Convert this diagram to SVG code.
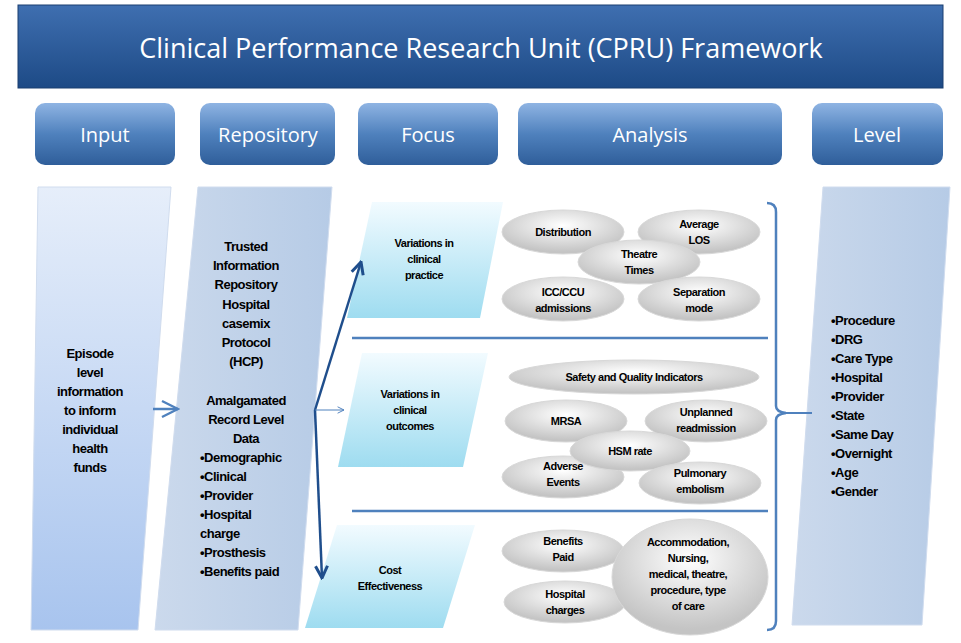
<svg xmlns="http://www.w3.org/2000/svg" width="961" height="643" viewBox="0 0 961 643">
<defs>
<linearGradient id="hdr" x1="0" y1="0" x2="0" y2="1"><stop offset="0" stop-color="#3f6fb0"/><stop offset="1" stop-color="#1d4a86"/></linearGradient>
<linearGradient id="sub" x1="0" y1="0" x2="0" y2="1"><stop offset="0" stop-color="#8fb4e3"/><stop offset="0.5" stop-color="#4f81bd"/><stop offset="1" stop-color="#2f5e9a"/></linearGradient>
<linearGradient id="inp" x1="0" y1="0" x2="0" y2="1"><stop offset="0" stop-color="#e6eefa"/><stop offset="1" stop-color="#a8c4ee"/></linearGradient>
<linearGradient id="rep" x1="0" y1="0" x2="1" y2="0"><stop offset="0" stop-color="#cbd9ec"/><stop offset="1" stop-color="#b6cbe6"/></linearGradient>
<linearGradient id="foc" x1="0" y1="0" x2="0" y2="1"><stop offset="0" stop-color="#f2fbff"/><stop offset="1" stop-color="#9edcf0"/></linearGradient>
<radialGradient id="ell" cx="0.5" cy="0.35" r="0.6"><stop offset="0" stop-color="#ffffff"/><stop offset="1" stop-color="#c4c4c4"/></radialGradient>
<marker id="ah" viewBox="0 0 10 10" refX="9" refY="5" markerWidth="6" markerHeight="6" orient="auto"><path d="M1,1 L9,5 L1,9" fill="none" stroke="#1f4e8c" stroke-width="2"/></marker>
<marker id="ah2" viewBox="0 0 10 10" refX="9" refY="5" markerWidth="8" markerHeight="8" orient="auto"><path d="M1,1 L9,5 L1,9" fill="none" stroke="#4f81bd" stroke-width="1.2"/></marker>
</defs>
<style>
.t{font-family:"Liberation Sans",Arial,sans-serif;font-weight:bold;fill:#000;text-anchor:middle;letter-spacing:-0.5px}
.w{font-family:"Open Sans","Liberation Sans",sans-serif;fill:#fff;text-anchor:middle}
.e{fill:url(#ell);stroke:#d8d8d8;stroke-width:1}
.s{font-size:11px}
</style>
<rect width="961" height="643" fill="#fff"/>
<g id="title"><rect x="18" y="5" width="925" height="83" fill="url(#hdr)" stroke="#1a3f70"/><text class="w" x="481" y="58" font-size="27">Clinical Performance Research Unit  (CPRU) Framework</text></g>
<g id="h-input"><rect x="35" y="103" width="140" height="62" rx="10" fill="url(#sub)"/><text class="w" x="105" y="142" font-size="20">Input</text></g>
<g id="h-repo"><rect x="200" y="103" width="135" height="62" rx="10" fill="url(#sub)"/><text class="w" x="268" y="142" font-size="20">Repository</text></g>
<g id="h-focus"><rect x="358" y="103" width="140" height="62" rx="10" fill="url(#sub)"/><text class="w" x="428" y="142" font-size="20">Focus</text></g>
<g id="h-analysis"><rect x="518" y="103" width="264" height="62" rx="10" fill="url(#sub)"/><text class="w" x="650" y="142" font-size="20">Analysis</text></g>
<g id="h-level"><rect x="812" y="103" width="131" height="62" rx="10" fill="url(#sub)"/><text class="w" x="877" y="142" font-size="20">Level</text></g>

<g id="input"><polygon points="38,187 171,187 138,630 31,630" fill="url(#inp)" stroke="#d0dcee"/>
<text class="t" font-size="13"><tspan x="90" y="358">Episode</tspan><tspan x="90" y="377">level</tspan><tspan x="90" y="396">information</tspan><tspan x="90" y="415">to inform</tspan><tspan x="90" y="434">individual</tspan><tspan x="90" y="453">health</tspan><tspan x="90" y="472">funds</tspan></text></g>
<g id="repository"><polygon points="198,187 332,187 298,630 155,630" fill="url(#rep)" stroke="#d0dcee"/>
<text class="t" font-size="13"><tspan x="246" y="251">Trusted</tspan><tspan x="246" y="270">Information</tspan><tspan x="246" y="289">Repository</tspan><tspan x="246" y="309">Hospital</tspan><tspan x="246" y="328">casemix</tspan><tspan x="246" y="347">Protocol</tspan><tspan x="246" y="366">(HCP)</tspan><tspan x="246" y="405">Amalgamated</tspan><tspan x="246" y="424">Record Level</tspan><tspan x="246" y="443">Data</tspan></text>
<text class="t" font-size="13" style="text-anchor:start"><tspan x="200" y="462">•Demographic</tspan><tspan x="200" y="481">•Clinical</tspan><tspan x="200" y="500">•Provider</tspan><tspan x="200" y="519">•Hospital</tspan><tspan x="200" y="538">charge</tspan><tspan x="200" y="557">•Prosthesis</tspan><tspan x="200" y="576">•Benefits paid</tspan></text></g>

<g id="focus1"><polygon points="372,202 503,202 480,318 347,318" fill="url(#foc)"/><text class="t s"><tspan x="424" y="247">Variations in</tspan><tspan x="424" y="263">clinical</tspan><tspan x="424" y="279">practice</tspan></text></g>
<g id="focus2"><polygon points="362,353 488,353 463,467 338,467" fill="url(#foc)"/><text class="t s"><tspan x="410" y="398">Variations in</tspan><tspan x="410" y="414">clinical</tspan><tspan x="410" y="430">outcomes</tspan></text></g>
<g id="focus3"><polygon points="337,525 475,525 443,628 305,628" fill="url(#foc)"/><text class="t s"><tspan x="390" y="574">Cost</tspan><tspan x="390" y="590">Effectiveness</tspan></text></g>

<g id="analysis">
<g id="a-dist"><ellipse class="e" cx="563" cy="232" rx="61" ry="22"/><text class="t s" x="563" y="236">Distribution</text></g>
<g id="a-los"><ellipse class="e" cx="699" cy="232" rx="61" ry="22"/><text class="t s"><tspan x="699" y="228">Average</tspan><tspan x="699" y="244">LOS</tspan></text></g>
<g id="a-theatre"><ellipse class="e" cx="639" cy="262" rx="61" ry="22"/><text class="t s"><tspan x="639" y="258">Theatre</tspan><tspan x="639" y="274">Times</tspan></text></g>
<g id="a-icc"><ellipse class="e" cx="563" cy="299" rx="61" ry="22"/><text class="t s"><tspan x="563" y="296">ICC/CCU</tspan><tspan x="563" y="312">admissions</tspan></text></g>
<g id="a-sep"><ellipse class="e" cx="699" cy="299" rx="61" ry="22"/><text class="t s"><tspan x="699" y="296">Separation</tspan><tspan x="699" y="312">mode</tspan></text></g>
<g id="a-safety"><ellipse class="e" cx="634" cy="377" rx="125" ry="17"/><text class="t s" x="634" y="381">Safety and Quality Indicators</text></g>
<g id="a-mrsa"><ellipse class="e" cx="566" cy="421" rx="61" ry="21"/><text class="t s" x="566" y="425">MRSA</text></g>
<g id="a-unpl"><ellipse class="e" cx="706" cy="421" rx="61" ry="21"/><text class="t s"><tspan x="706" y="416">Unplanned</tspan><tspan x="706" y="432">readmission</tspan></text></g>
<g id="a-adv"><ellipse class="e" cx="563" cy="477" rx="61" ry="21"/><text class="t s"><tspan x="563" y="470">Adverse</tspan><tspan x="563" y="486">Events</tspan></text></g>
<g id="a-hsm"><ellipse class="e" cx="630" cy="451" rx="60" ry="20"/><text class="t s" x="630" y="455">HSM rate</text></g>
<g id="a-pulm"><ellipse class="e" cx="700" cy="483" rx="61" ry="21"/><text class="t s"><tspan x="700" y="477">Pulmonary</tspan><tspan x="700" y="493">embolism</tspan></text></g>
<g id="a-ben"><ellipse class="e" cx="563" cy="551" rx="61" ry="21"/><text class="t s"><tspan x="563" y="545">Benefits</tspan><tspan x="563" y="561">Paid</tspan></text></g>
<g id="a-hosp"><ellipse class="e" cx="565" cy="602" rx="61" ry="21"/><text class="t s"><tspan x="565" y="598">Hospital</tspan><tspan x="565" y="614">charges</tspan></text></g>
<g id="a-acc"><ellipse class="e" cx="690" cy="577" rx="78" ry="58"/><text class="t s"><tspan x="688" y="546">Accommodation,</tspan><tspan x="688" y="562">Nursing,</tspan><tspan x="688" y="578">medical, theatre,</tspan><tspan x="688" y="594">procedure, type</tspan><tspan x="688" y="610">of care</tspan></text></g>
</g>

<g id="level"><polygon points="823,187 950,187 922,625 792,625" fill="url(#rep)" stroke="#d0dcee"/>
<text class="t" font-size="13" style="text-anchor:start"><tspan x="831" y="325">•Procedure</tspan><tspan x="831" y="344">•DRG</tspan><tspan x="831" y="363">•Care Type</tspan><tspan x="831" y="382">•Hospital</tspan><tspan x="831" y="401">•Provider</tspan><tspan x="831" y="420">•State</tspan><tspan x="831" y="439">•Same Day</tspan><tspan x="831" y="458">•Overnight</tspan><tspan x="831" y="477">•Age</tspan><tspan x="831" y="496">•Gender</tspan></text></g>

<g id="connectors" fill="none">
<line x1="352" y1="338" x2="768" y2="338" stroke="#4f81bd" stroke-width="2.5"/>
<line x1="352" y1="511" x2="768" y2="511" stroke="#4f81bd" stroke-width="2.5"/>
<path d="M767,203 Q776,203 776,212 L776,406 Q776,412 786,413 Q776,414 776,420 L776,621 Q776,630 767,630" stroke="#4f81bd" stroke-width="2.5"/>
<line x1="786" y1="413" x2="812" y2="413" stroke="#4f81bd" stroke-width="2"/>
<line x1="153" y1="409" x2="178" y2="409" stroke="#4f81bd" stroke-width="2.5" marker-end="url(#ah2)"/>
<line x1="315" y1="410" x2="361" y2="262" stroke="#1f4e8c" stroke-width="2.5" marker-end="url(#ah)"/>
<line x1="315" y1="410" x2="322" y2="578" stroke="#1f4e8c" stroke-width="2.5" marker-end="url(#ah)"/>
<line x1="315" y1="410" x2="344" y2="410" stroke="#4f81bd" stroke-width="1" marker-end="url(#ah2)"/>
</g>
</svg>
